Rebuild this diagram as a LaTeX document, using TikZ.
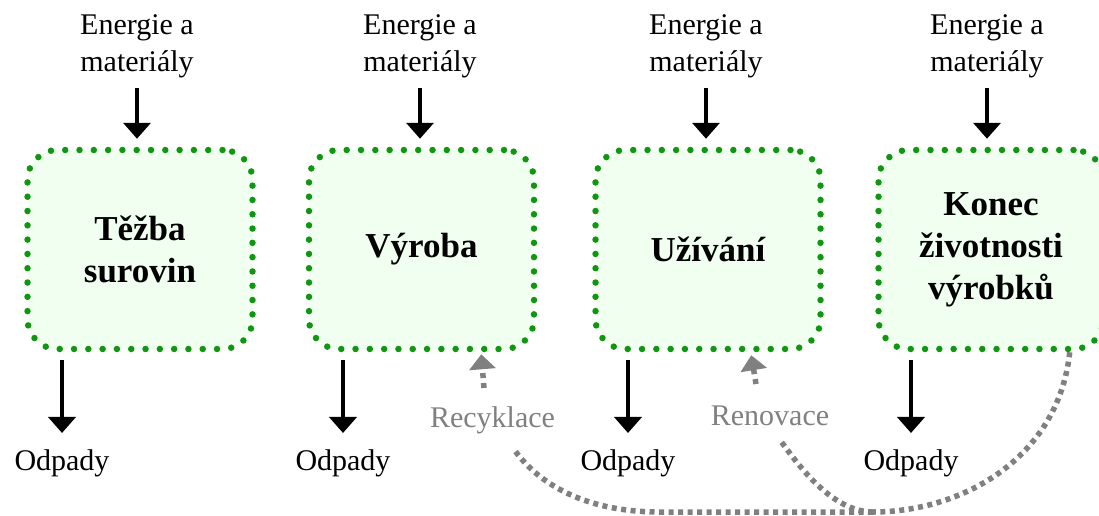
\documentclass[tikz,border=0pt]{standalone}
\usepackage{fontspec}
\setmainfont{Liberation Serif}
\usetikzlibrary{arrows.meta,calc}
\definecolor{dotgreen}{RGB}{16,150,16}
\definecolor{boxfill}{RGB}{240,255,240}
\definecolor{flowgray}{RGB}{128,128,128}
\begin{document}
\begin{tikzpicture}[x=1pt,y=-1pt,
  stage/.style={draw=dotgreen, fill=boxfill, line width=6.5pt, dash pattern=on 0pt off 14.3pt, line cap=round, rounded corners=30pt, minimum width=225pt, minimum height=199pt, inner sep=0pt, align=center, font=\fontsize{35}{42}\selectfont\bfseries},
  inlabel/.style={align=center, inner sep=0pt, font=\fontsize{30}{37}\selectfont, anchor=base},
  waste/.style={inner sep=0pt, font=\fontsize{30}{37}\selectfont, anchor=base},
  flowlabel/.style={inner sep=0pt, font=\fontsize{30}{37}\selectfont, text=flowgray, anchor=base},
  blackarrow/.style={draw=black, line width=4.5pt, -{Triangle[length=16pt,width=27pt]}},
  grayarrow/.style={draw=flowgray, line width=5.5pt, dash pattern=on 5pt off 5pt, -{Triangle[length=15pt,width=26pt]}},
  grayflow/.style={draw=flowgray, line width=5.5pt, dash pattern=on 5pt off 4.5pt},
]
\useasboundingbox (0,0) rectangle (1099,515);

% stages
\node[stage] (b1) at (140,249.5) {Těžba\\surovin};
\node[stage] (b2) at (421.5,249.5) {Výroba};
\node[stage] (b3) at (708,249.5) {Užívání};
\node[stage] (b4) at (991,249.5) {Konec\\životnosti\\výrobků};

% inputs
\node[inlabel] (e1) at (137,71) {Energie a\\materiály};
\node[inlabel] (e2) at (420,71) {Energie a\\materiály};
\node[inlabel] (e3) at (706,71) {Energie a\\materiály};
\node[inlabel] (e4) at (987,71) {Energie a\\materiály};

\foreach \i in {1,2,3,4}{
  \draw[blackarrow, shorten <=10pt, shorten >=8pt] (e\i.south) -- (e\i.south |- b\i.north);
}

% wastes
\node[waste] (o1) at (62,470) {Odpady};
\node[waste] (o2) at (343,470) {Odpady};
\node[waste] (o3) at (628,470) {Odpady};
\node[waste] (o4) at (911,470) {Odpady};

\foreach \i in {1,2,3,4}{
  \draw[blackarrow, shorten <=8pt, shorten >=16pt] (o\i.north |- b\i.south) -- (o\i.north);
}

% recycling / renovation
\node[flowlabel] (rl) at (492.5,427) {Recyklace};
\node[flowlabel] (nl) at (770,425) {Renovace};

\coordinate (rt1) at (484,388);
\coordinate (rt2) at (756,384);
\draw[grayarrow] (rt1) -- ($(b2.south east)+(-56,2)$);
\draw[grayarrow] (rt2) -- ($(b3.south east)+(-72.5,3)$);

\coordinate (k) at ($(b4.south east)+(-37,0)$);
\coordinate (j) at (873,512);
\coordinate (ra) at (513,448);
\coordinate (rb) at (780,440);
\draw[grayflow] (k) .. controls (1058,460) and (960,512) .. (j);
\draw[grayflow] (j) -- (660,512) .. controls (580,512) and (535,480) .. (ra);
\draw[grayflow] (j) .. controls (830,512) and (795,460) .. (rb);
\end{tikzpicture}
\end{document}
